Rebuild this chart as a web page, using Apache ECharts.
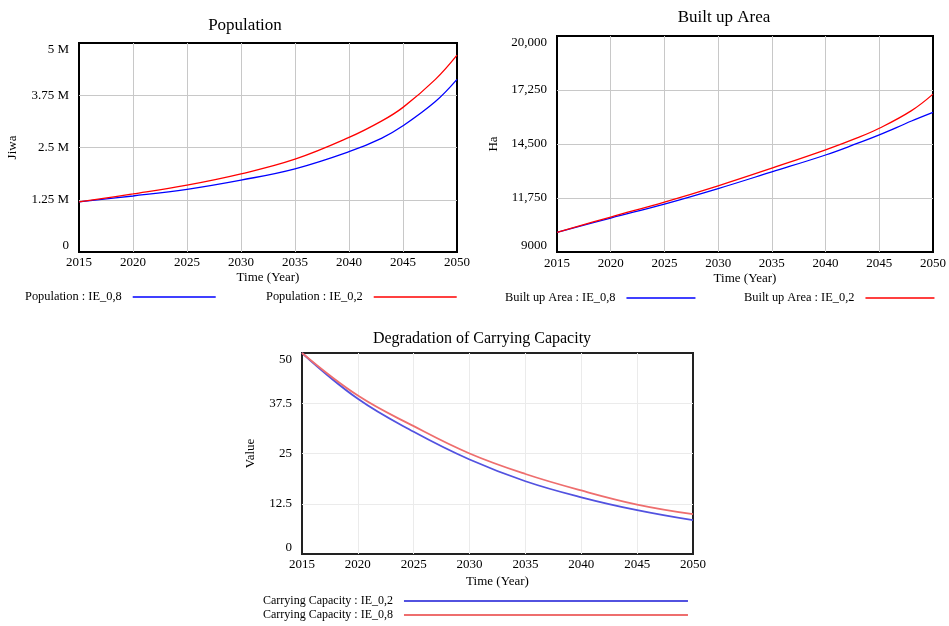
<!DOCTYPE html>
<html>
<head>
<meta charset="utf-8">
<title>Population, Built up Area, Carrying Capacity</title>
<script src="https://cdn.jsdelivr.net/npm/echarts@6/dist/echarts.min.js"></script>
<style>
    html, body { margin: 0; padding: 0; background: #fff; }
    #chart { width: 949px; height: 626px; }
</style>
</head>
<body>
<div id="chart"></div>
<script>
// values
var yearsGrowth = [2015, 2020, 2025, 2030, 2035, 2040, 2043, 2045, 2048, 2050];
// population in million jiwa
var populationIE08 = [1.20, 1.34, 1.50, 1.72, 1.99, 2.40, 2.72, 3.02, 3.60, 4.13];
var populationIE02 = [1.20, 1.39, 1.60, 1.87, 2.22, 2.74, 3.13, 3.46, 4.13, 4.71];
// built up area in ha
var builtIE08 = [10000, 10730, 11440, 12230, 13080, 13940, 14540, 14960, 15670, 16110];
var builtIE02 = [10000, 10780, 11540, 12370, 13270, 14200, 14820, 15300, 16200, 17040];

var yearsCapacity = [2015, 2020, 2025, 2030, 2035, 2040, 2045, 2050];
var capacityIE02 = [50, 38.6, 30.4, 23.5, 18.1, 14.1, 10.9, 8.4];
var capacityIE08 = [50, 39.4, 31.8, 25.0, 19.9, 15.8, 12.3, 9.9];

var yearTicks = [2015, 2020, 2025, 2030, 2035, 2040, 2045, 2050];
var popTicks = [0, 1.25, 2.5, 3.75, 5];
var areaTicks = [9000, 11750, 14500, 17250, 20000];
var capTicks = [0, 12.5, 25, 37.5, 50];

var FONT = '"Liberation Serif", "DejaVu Serif", serif';

function pairs(xs, ys) {
    var out = [];
    for (var i = 0; i < xs.length; i++) {
        out.push([xs[i], ys[i]]);
    }
    return out;
}

function gridLine(gridIndex) {
    return {
        show: true,
        showMinLine: false,
        showMaxLine: false,
        lineStyle: { color: gridIndex === 2 ? '#ebebeb' : '#c8c8c8', width: 1 }
    };
}

function xAxisFor(gridIndex, labelMargin, nameGap) {
    return {
        type: 'value',
        gridIndex: gridIndex,
        min: yearTicks[0],
        max: yearTicks[yearTicks.length - 1],
        interval: yearTicks[1] - yearTicks[0],
        name: 'Time (Year)',
        nameLocation: 'middle',
        nameGap: nameGap,
        nameTextStyle: { fontFamily: FONT, fontSize: 13, color: '#000' },
        axisLine: { show: false },
        axisTick: { show: false },
        axisLabel: {
            margin: labelMargin, fontFamily: FONT, fontSize: 13, color: '#000',
            formatter: function (v) { return String(v); }
        },
        splitLine: gridLine(gridIndex)
    };
}

function yAxisFor(gridIndex, ticks, name, nameGap, formatter) {
    return {
        type: 'value',
        gridIndex: gridIndex,
        min: ticks[0],
        max: ticks[ticks.length - 1],
        interval: ticks[1] - ticks[0],
        name: name,
        nameLocation: 'middle',
        nameRotate: 90,
        nameGap: nameGap,
        nameTextStyle: { fontFamily: FONT, fontSize: 13, color: '#000' },
        axisLine: { show: false },
        axisTick: { show: false },
        axisLabel: {
            margin: 10,
            fontFamily: FONT,
            fontSize: 13,
            color: '#000',
            verticalAlignMinLabel: 'bottom',
            verticalAlignMaxLabel: 'top',
            formatter: formatter
        },
        splitLine: gridLine(gridIndex)
    };
}

// one legend per entry so each one can sit where the original has it
function legendFor(name, left, top, lineWidth, fontSize, lineHeight) {
    return {
        data: [name],
        left: left,
        top: top,
        padding: 0,
        align: 'right',
        icon: 'rect',
        itemWidth: lineWidth,
        itemHeight: lineHeight,
        selectedMode: false,
        textStyle: { fontFamily: FONT, fontSize: fontSize, color: '#000', padding: [0, 6, 0, 0] }
    };
}

function lineSeries(name, idx, xs, ys, color, width) {
    return {
        name: name,
        type: 'line',
        xAxisIndex: idx,
        yAxisIndex: idx,
        data: pairs(xs, ys),
        smooth: 0.4,
        symbol: 'none',
        color: color,
        lineStyle: { color: color, width: width },
        animation: false
    };
}

var chart = echarts.init(document.getElementById('chart'));

var option = {
    backgroundColor: '#fff',
    animation: false,
    title: [
        { text: 'Population', left: 245, top: 17, padding: 0, textAlign: 'center',
          textStyle: { fontFamily: FONT, fontSize: 17, fontWeight: 'normal', color: '#000' } },
        { text: 'Built up Area', left: 724, top: 9, padding: 0, textAlign: 'center',
          textStyle: { fontFamily: FONT, fontSize: 17, fontWeight: 'normal', color: '#000' } },
        { text: 'Degradation of Carrying Capacity', left: 482, top: 331, padding: 0, textAlign: 'center',
          textStyle: { fontFamily: FONT, fontSize: 16, fontWeight: 'normal', color: '#000' } }
    ],
    grid: [
        { left: 79, top: 43, width: 378, height: 209, show: true, borderColor: '#000', borderWidth: 2 },
        { left: 557, top: 36, width: 378, height: 216, show: true, borderColor: '#000', borderWidth: 2 },
        { left: 302, top: 353, width: 391, height: 201, show: true, borderColor: '#222', borderWidth: 2 }
    ],
    xAxis: [
        xAxisFor(0, 4, 19),
        xAxisFor(1, 5, 20),
        xAxisFor(2, 4, 21)
    ],
    yAxis: [
        yAxisFor(0, popTicks, 'Jiwa', 60, function (v) { return v === 0 ? '0' : v + ' M'; }),
        yAxisFor(1, areaTicks, 'Ha', 57, function (v) {
            return v >= 10000 ? Math.floor(v / 1000) + ',' + String(v % 1000 + 1000).slice(1) : String(v);
        }),
        yAxisFor(2, capTicks, 'Value', 45, function (v) { return String(v); })
    ],
    legend: [
        legendFor('Population : IE_0,8', 25, 291, 83, 12.4, 1.5),
        legendFor('Population : IE_0,2', 266, 291, 83, 12.4, 1.5),
        legendFor('Built up Area : IE_0,8', 505, 292, 69, 12.4, 1.5),
        legendFor('Built up Area : IE_0,2', 744, 292, 69, 12.4, 1.5),
        legendFor('Carrying Capacity : IE_0,2', 263, 595, 284, 12, 2),
        legendFor('Carrying Capacity : IE_0,8', 263, 609, 284, 12, 2)
    ],
    series: [
        lineSeries('Population : IE_0,8', 0, yearsGrowth, populationIE08, '#0000ff', 1.3),
        lineSeries('Population : IE_0,2', 0, yearsGrowth, populationIE02, '#ff0000', 1.3),
        lineSeries('Built up Area : IE_0,8', 1, yearsGrowth, builtIE08, '#0000ff', 1.3),
        lineSeries('Built up Area : IE_0,2', 1, yearsGrowth, builtIE02, '#ff0000', 1.3),
        lineSeries('Carrying Capacity : IE_0,2', 2, yearsCapacity, capacityIE02, '#5252e0', 1.8),
        lineSeries('Carrying Capacity : IE_0,8', 2, yearsCapacity, capacityIE08, '#ee6e6e', 1.8)
    ]
};

chart.setOption(option);
</script>
</body>
</html>
